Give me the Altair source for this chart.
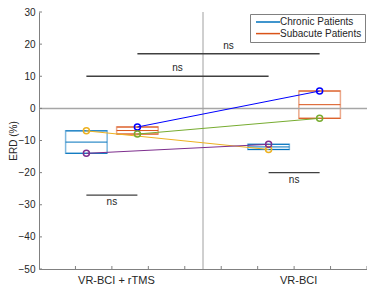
import altair as alt
import pandas as pd

FONT = "Liberation Sans"

# ---- data ----
conditions = ["VR-BCI + rTMS", "VR-BCI"]
condition_centers = [2.0, 7.0]
groups = ["Chronic Patients", "Subacute Patients"]
group_offsets = [-0.7, 0.7]
group_colors = ["#0072BD", "#D95319"]

patient_ids = ["P1", "P2", "P3", "P4"]
patient_groups = ["Subacute Patients", "Subacute Patients", "Chronic Patients", "Chronic Patients"]
patient_colors = ["#0000FF", "#77AC30", "#EDB120", "#7E2F8E"]
erd_rtms = [-5.8, -8.0, -7.0, -14.0]
erd_vr = [5.4, -3.1, -12.8, -11.2]

# significance comparisons: (group, condition) pairs
sig_a = [("Chronic Patients", 0), ("Chronic Patients", 1), ("Chronic Patients", 0), ("Subacute Patients", 0)]
sig_b = [("Subacute Patients", 0), ("Subacute Patients", 1), ("Chronic Patients", 1), ("Subacute Patients", 1)]
sig_level = [-27, -20, 10, 17]
sig_text = ["ns", "ns", "ns", "ns"]
sig_side = ["below", "below", "above", "above"]

y_ticks = [-50, -40, -30, -20, -10, 0, 10, 20, 30]
x_ticks = [1, 2, 3, 4, 5, 6, 7, 8, 9]

# ---- styles ----
BOX_HALF = 0.57
W, H = 328, 257


def pos(group, cond):
    return condition_centers[cond] + group_offsets[groups.index(group)]


rows = []
for i, pid in enumerate(patient_ids):
    g = patient_groups[i]
    for c, cname in enumerate(conditions):
        val = [erd_rtms, erd_vr][c][i]
        rows.append(dict(patient=pid, group=g, condition=cname, x=pos(g, c), erd=val,
                         pcolor=patient_colors[i]))
df = pd.DataFrame(rows)

sig_df = pd.DataFrame({
    "x1": [pos(*a) for a in sig_a],
    "x2": [pos(*b) for b in sig_b],
    "y": sig_level,
    "label": sig_text,
    "side": sig_side,
})

xs = alt.Scale(domain=[0, 9], nice=False, zero=False)
ys = alt.Scale(domain=[-50, 30], nice=False, zero=False)
cscale = alt.Scale(domain=groups, range=group_colors)

x_axis = alt.Axis(values=condition_centers,
                  labelExpr=f"datum.value < 4.5 ? '{conditions[0]}' : '{conditions[1]}'",
                  tickSize=0, labelPadding=5, labelFontSize=11, labelFont=FONT, labelColor="#262626",
                  domainColor="#808080", labelOffset=4, title=None, grid=False, labelAngle=0)
y_axis = alt.Axis(values=y_ticks, tickSize=0, labelPadding=4, labelFontSize=10, labelFont=FONT,
                  labelColor="#262626", domainColor="#808080", title="ERD (%)", titleFont=FONT,
                  titleFontSize=10, titleFontWeight="normal", titleColor="#262626", titlePadding=0, grid=False)


def X(f):
    return alt.X(f, scale=xs, axis=x_axis)


def Y(f):
    return alt.Y(f, scale=ys, axis=y_axis)


# reference lines
zero_line = alt.Chart(pd.DataFrame({"y": [0]})).mark_rule(color="#a6a6a6", strokeWidth=1.5).encode(
    y=Y("y:Q"))
divider = alt.Chart(pd.DataFrame({"x": [sum(condition_centers) / 2]})).mark_rule(color="#a0a0a0", strokeWidth=1).encode(
    x=X("x:Q"))

# axis ticks pointing inward
yt = alt.Chart(pd.DataFrame({"y": y_ticks})).mark_rule(color="#808080", strokeWidth=1).encode(
    y=Y("y:Q"), x=alt.value(0), x2=alt.value(3))
xt = alt.Chart(pd.DataFrame({"x": x_ticks})).mark_rule(color="#808080", strokeWidth=1).encode(
    x=X("x:Q"), y=alt.value(H), y2=alt.value(H - 3))

box_base = alt.Chart(df).transform_aggregate(
    lo="min(erd)", hi="max(erd)", med="median(erd)", groupby=["group", "condition", "x"]
).transform_calculate(x1=f"datum.x - {BOX_HALF}", x2=f"datum.x + {BOX_HALF}")

legend = alt.Legend(orient="none", legendX=211, legendY=2, title=None, symbolType="M-1,0H11",
                    symbolSize=16, symbolStrokeWidth=1.5, labelFontSize=10, labelFont=FONT,
                    labelColor="#262626", fillColor="white", strokeColor="#808080", padding=3,
                    rowPadding=1.6, labelOffset=17)

box_rect = box_base.mark_rect(filled=False, strokeWidth=1.5, strokeOpacity=0.5).encode(
    x=X("x1:Q"),
    x2="x2:Q",
    y=Y("lo:Q"),
    y2="hi:Q",
    color=alt.Color("group:N", scale=cscale, legend=legend),
)

box_lines = box_base.transform_fold(["lo", "med", "hi"], as_=["stat", "val"]).mark_rule(strokeWidth=1).encode(
    x=X("x1:Q"),
    x2="x2:Q",
    y=Y("val:Q"),
    color=alt.Color("group:N", scale=cscale, legend=legend),
)

plines = alt.Chart(df).mark_line(strokeWidth=1).encode(
    x=X("x:Q"),
    y=Y("erd:Q"),
    detail="patient:N",
    stroke=alt.Stroke("pcolor:N", scale=None),
)
ppoints = alt.Chart(df).mark_point(filled=False, size=36, strokeWidth=1.5, opacity=1).encode(
    x=X("x:Q"),
    y=Y("erd:Q"),
    stroke=alt.Stroke("pcolor:N", scale=None),
)

sig_base = alt.Chart(sig_df)
sig_bars = sig_base.mark_rule(color="#404040", strokeWidth=1.3).encode(
    x=X("x1:Q"), x2="x2:Q", y=Y("y:Q"))
sig_above = sig_base.transform_filter("datum.side == 'above'").transform_calculate(
    xm="(datum.x1 + datum.x2) / 2").mark_text(font=FONT, fontSize=10, color="#262626", baseline="alphabetic", dy=-5).encode(
    x=X("xm:Q"), y=Y("y:Q"), text="label:N")
sig_below = sig_base.transform_filter("datum.side == 'below'").transform_calculate(
    xm="(datum.x1 + datum.x2) / 2").mark_text(font=FONT, fontSize=10, color="#262626", baseline="alphabetic", dy=10).encode(
    x=X("xm:Q"), y=Y("y:Q"), text="label:N")

chart = alt.layer(
    box_rect, zero_line, divider, yt, xt, box_lines, sig_bars, sig_above, sig_below, plines, ppoints
).properties(
    width=W, height=H, autosize="none",
    padding={"left": 31, "top": 4, "right": 0, "bottom": 17},
).configure_view(stroke=None).configure_axis(grid=False)

chart.save("out.html", embed_options={"renderer": "svg", "actions": False})
